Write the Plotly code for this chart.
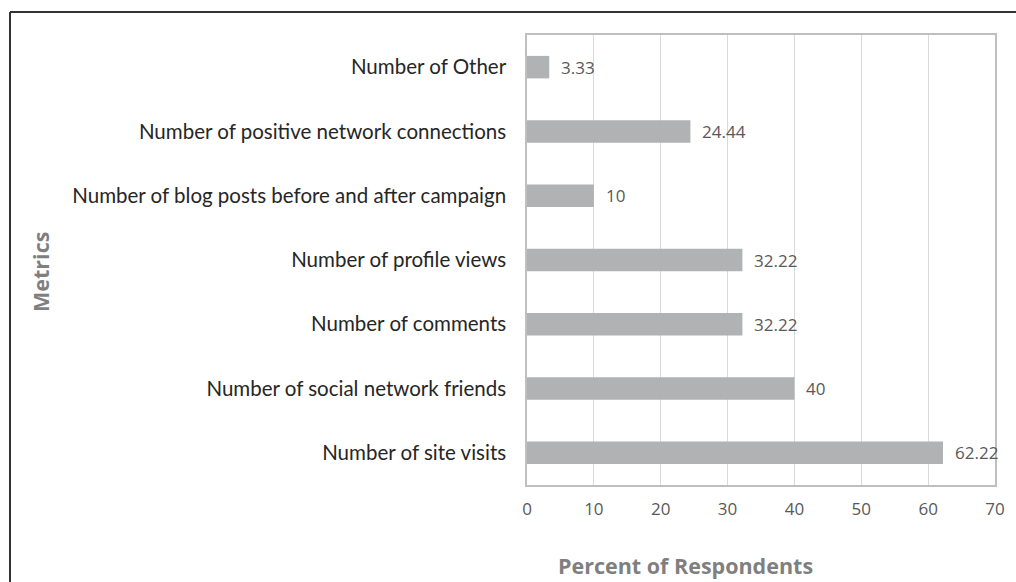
import plotly.graph_objects as go

# Survey metrics and share of respondents (%)
metrics = [
    "Number of site visits",
    "Number of social network friends",
    "Number of comments",
    "Number of profile views",
    "Number of blog posts before and after campaign",
    "Number of positive network connections",
    "Number of Other",
]
percent = [62.22, 40, 32.22, 32.22, 10, 24.44, 3.33]
x_ticks = [0, 10, 20, 30, 40, 50, 60, 70]

W, H = 1016, 582
L, R, T, B = 527, 21, 35, 97
pw, ph = W - L - R, H - T - B


def px_x(px):
    return (px - L) / pw


def px_y(py):
    return (H - B - py) / ph


fig = go.Figure(
    go.Bar(
        x=percent,
        y=metrics,
        orientation="h",
        width=0.35,
        marker=dict(color="#b1b2b4", line=dict(width=0)),
        hoverinfo="skip",
    )
)

# value labels just right of each bar
for v, m in zip(percent, metrics):
    fig.add_annotation(
        x=v, y=m, xref="x", yref="y",
        text=f"{v:g}", showarrow=False,
        xanchor="left", yanchor="middle", xshift=10,
        font=dict(family="Open Sans", size=17, color="#595959"),
    )

# axis titles
fig.add_annotation(
    x=px_x(685), y=px_y(565), xref="paper", yref="paper",
    xanchor="center", yanchor="middle",
    text="<b>Percent of Respondents</b>", showarrow=False,
    font=dict(family="Open Sans", size=21.5, color="#7f7f7f"),
)
fig.add_annotation(
    x=px_x(40), y=px_y(272), xref="paper", yref="paper",
    xanchor="center", yanchor="middle",
    text="<b>Metrics</b>", showarrow=False, textangle=-90,
    font=dict(family="Open Sans", size=21.5, color="#7f7f7f"),
)

# outer frame (top and left edges)
fig.add_shape(type="line", xref="paper", yref="paper",
              x0=px_x(10), y0=px_y(12), x1=px_x(1020), y1=px_y(12),
              line=dict(color="#333333", width=2))
fig.add_shape(type="line", xref="paper", yref="paper",
              x0=px_x(10), y0=px_y(12), x1=px_x(10), y1=px_y(590),
              line=dict(color="#333333", width=2))

fig.update_layout(
    width=W, height=H,
    margin=dict(l=L, r=R, t=T, b=B),
    paper_bgcolor="white",
    plot_bgcolor="white",
    showlegend=False,
    xaxis=dict(
        range=[0, 70],
        tickvals=x_ticks,
        showgrid=True, gridcolor="#d9d9d9", gridwidth=1,
        zeroline=False,
        showline=True, linecolor="#bfbfbf", linewidth=1.5, mirror=True,
        ticks="outside", ticklen=8, tickcolor="rgba(0,0,0,0)",
        tickfont=dict(family="Open Sans", size=17, color="#595959"),
        fixedrange=True,
    ),
    yaxis=dict(
        categoryorder="array", categoryarray=metrics,
        range=[-0.5, 6.5],
        showgrid=False,
        showline=True, linecolor="#bfbfbf", linewidth=1.5, mirror=True,
        ticks="outside", ticklen=15, tickcolor="rgba(0,0,0,0)",
        tickfont=dict(family="Lato", size=20.5, color="#262626"),
        fixedrange=True,
    ),
)

fig.write_html("out.html")
